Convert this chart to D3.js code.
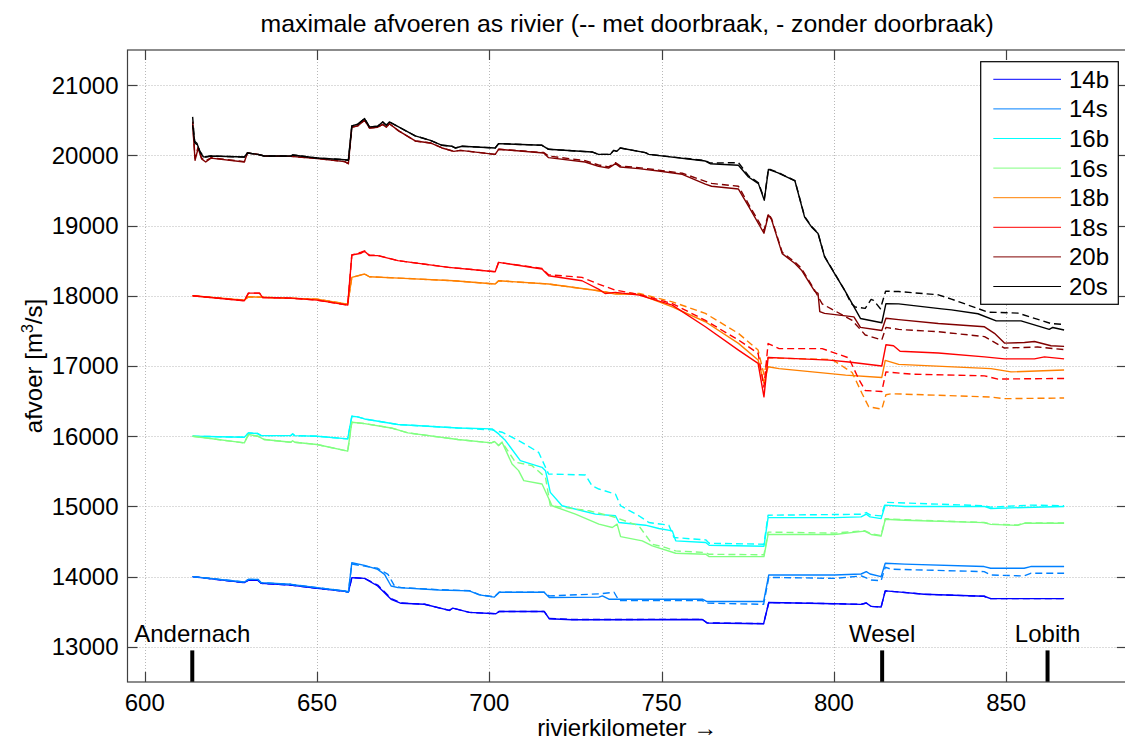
<!DOCTYPE html>
<html><head><meta charset="utf-8">
<script src="https://cdn.jsdelivr.net/npm/d3@7"></script>
<style>
body{margin:0;background:#fff}
svg{display:block}
text{font-family:"Liberation Sans",Arial,Helvetica,sans-serif;fill:#000}
</style>
</head><body>
<svg id="chart" width="1125" height="743"></svg>
<script>
// ---------- data ----------
const titleText = "maximale afvoeren as rivier (-- met doorbraak, - zonder doorbraak)";
const xLabel = "rivierkilometer \u2192";
const seriesNames = ["14b","14s","16b","16s","18b","18s","20b","20s"];
const seriesColors = ["#0000ff","#0080ff","#00ffff","#80ff80","#ff8000","#ff0000","#800000","#000000"];
const xTicks = [600,650,700,750,800,850];
const yTicks = [13000,14000,15000,16000,17000,18000,19000,20000,21000];
const stationNames = ["Andernach","Wesel","Lobith"];
const stationKm = [613.8,814.0,862.0];

// solid = zonder doorbraak, dashed = met doorbraak ; [km, afvoer]
const s14b = [[613.9,14000],[628.9,13915],[630.1,13950],[632.8,13950],[633.8,13905],[642.4,13880],[650,13835],[658,13790],[659.1,13780],[660.1,13986],[663.8,13976],[667.6,13867],[671.5,13678],[674.4,13621],[681.2,13607],[688.4,13519],[689.4,13552],[694.2,13491],[701.9,13472],[702.9,13505],[715.9,13505],[717.4,13401],[724.1,13387],[761.8,13390],[763.2,13340],[779.6,13330],[781.1,13632],[800.2,13615],[807.9,13606],[809.4,13625],[810.8,13577],[813.7,13567],[814.9,13798],[818.5,13784],[826.2,13750],[843.6,13721],[845.5,13687],[866.8,13687]];
const d14b = [[613.9,14000],[628.9,13915],[630.1,13950],[632.8,13950],[633.8,13905],[642.4,13880],[650,13835],[658,13790],[659.1,13780],[660.1,13986],[663.8,13976],[667.6,13880],[671.5,13690],[674.4,13625],[681.2,13607],[688.4,13519],[689.4,13552],[694.2,13491],[701.9,13472],[702.9,13505],[715.9,13505],[717.4,13405],[724.1,13390],[761.8,13392],[763.2,13342],[779.6,13332],[781.1,13632],[800.2,13615],[807.9,13606],[809.4,13625],[810.8,13577],[813.7,13567],[814.9,13798],[818.5,13784],[826.2,13750],[843.6,13721],[845.5,13687],[866.8,13687]];
const s14s = [[613.9,14000],[628.9,13924],[630.1,13962],[632.8,13962],[633.8,13915],[642.4,13891],[650,13844],[658,13796],[659.1,13782],[660.1,14199],[663.8,14161],[667.6,14104],[669.6,14033],[671.5,13867],[673.5,13844],[685.5,13811],[694.2,13797],[697.1,13741],[701.4,13708],[702.9,13778],[715.9,13778],[717.4,13703],[731.8,13708],[732.8,13726],[734.7,13679],[761.8,13679],[763.2,13646],[779.6,13646],[781.1,14024],[800.2,14024],[807.9,14038],[809.4,14072],[810.5,14038],[813.7,14000],[814.9,14192],[820.5,14178],[843.6,14144],[845.5,14120],[855.2,14120],[857.1,14144],[866.8,14144]];
const d14s = [[613.9,14000],[628.9,13924],[630.1,13962],[632.8,13962],[633.8,13915],[642.4,13891],[650,13844],[658,13796],[659.1,13782],[660.1,14180],[663.8,14150],[667.6,14120],[670.6,14033],[672.5,13867],[674.5,13844],[685.5,13815],[694.2,13800],[697.1,13745],[701.4,13712],[702.9,13780],[715.9,13780],[717.4,13726],[731.8,13755],[736.2,13778],[737.6,13660],[761.8,13660],[763.2,13623],[779.6,13606],[781.1,13990],[800.2,13976],[808,14010],[810.8,13952],[813.7,13942],[814.9,14135],[816.6,14106],[843.6,14072],[845.5,14024],[855.2,14010],[857.1,14048],[866.8,14048]];
const s16b = [[613.9,16000],[628.9,15986],[630.1,16047],[632.8,16038],[633.8,16009],[642.4,16009],[642.9,16033],[643.5,16009],[650,16000],[658.9,15962],[660.1,16284],[661.8,16275],[663.8,16246],[673.5,16166],[690.9,16118],[700.8,16105],[702.7,16033],[704.7,15938],[709,15652],[715.3,15557],[716.3,15510],[717.7,15200],[721.1,15010],[726.9,14938],[730.8,14890],[736.6,14867],[737.6,14771],[745.3,14733],[749.2,14686],[753.1,14652],[754.1,14510],[762.8,14486],[763.8,14448],[779.7,14433],[780.9,14841],[800.2,14841],[807.9,14851],[809.4,14889],[810.5,14851],[813.7,14827],[814.9,15019],[820.5,15000],[843.6,15000],[845.5,14971],[855.2,14986],[866.8,15000]];
const d16b = [[613.9,16000],[628.9,15986],[630.1,16047],[632.8,16038],[633.8,16009],[642.4,16009],[642.9,16033],[643.5,16009],[650,16000],[658.9,15962],[660.1,16284],[661.8,16275],[663.8,16246],[673.5,16166],[690.9,16118],[700.8,16090],[703.7,16057],[708.5,15938],[714.3,15771],[717.2,15462],[727.9,15448],[729.8,15295],[731.8,15248],[736.6,15176],[738.1,15010],[743.4,14867],[746.3,14771],[752.1,14733],[753.6,14557],[762.8,14524],[763.8,14476],[779.7,14462],[780.9,14875],[808,14889],[809.4,14913],[810.5,14880],[813.7,14865],[815,15058],[843.6,15010],[845.5,14990],[857.1,15019],[866.8,15010]];
const s16s = [[613.9,16000],[628.9,15905],[630.1,16024],[632.8,16000],[634.7,15953],[642.4,15915],[642.9,15935],[643.5,15915],[650,15882],[658.9,15787],[660.1,16199],[663.8,16180],[671.5,16118],[676.4,16047],[690.9,15953],[700.6,15905],[701.5,15924],[702.7,15867],[703.7,15914],[706.6,15605],[708.5,15510],[710,15367],[715.3,15319],[718.2,15010],[725,14890],[731.8,14748],[735.7,14700],[737.1,14748],[738.1,14571],[744.4,14510],[747.3,14438],[754.1,14333],[762.8,14319],[763.8,14286],[779.7,14286],[780.9,14601],[800.2,14601],[808.9,14649],[810.8,14601],[813.7,14577],[814.9,14817],[820.5,14803],[843.6,14769],[845.5,14745],[853.3,14731],[855.2,14760],[866.8,14760]];
const d16s = [[613.9,16000],[628.9,15905],[630.1,16024],[632.8,16000],[634.7,15953],[642.4,15915],[642.9,15935],[643.5,15915],[650,15882],[658.9,15787],[660.1,16199],[663.8,16180],[671.5,16118],[676.4,16047],[690.9,15953],[700.6,15905],[701.5,15924],[702.7,15867],[703.7,15914],[707.6,15629],[712.4,15581],[716.3,15414],[717.7,15010],[724,14971],[728.9,14938],[735.7,14857],[743.4,14724],[747.3,14462],[751.2,14414],[754.1,14367],[762.8,14343],[763.8,14319],[779.7,14312],[780.9,14635],[800.2,14620],[808.9,14655],[810.8,14610],[813.7,14585],[814.9,14825],[820.5,14810],[843.6,14772],[845.5,14748],[853.3,14735],[855.2,14765],[866.8,14765]];
const s18b = [[613.9,18000],[628.9,17938],[630.1,17986],[650,17952],[658.9,17881],[660.1,18262],[663.8,18310],[665.2,18271],[673.7,18252],[689.7,18214],[701.7,18167],[702.7,18214],[717.2,18167],[731.7,18071],[736.6,18024],[743.5,18020],[753.1,17843],[762.7,17630],[772.3,17322],[778,17085],[779.7,16760],[780.9,16990],[784.1,16963],[803.4,16870],[813.9,16837],[814.9,17079],[818.8,17023],[845.6,16963],[851.4,16916],[866.8,16944]];
const d18b = [[613.9,18000],[628.9,17938],[630.1,17986],[650,17952],[658.9,17881],[660.1,18262],[663.8,18310],[665.2,18271],[673.7,18252],[689.7,18214],[701.7,18167],[702.7,18214],[717.2,18167],[731.7,18071],[736.6,18030],[743.5,18033],[753.1,17914],[762.7,17749],[772.3,17464],[778,17227],[779.7,16880],[780.9,17120],[784.1,17110],[799.5,17093],[805.3,16907],[808.2,16605],[810.1,16419],[813.9,16386],[815.1,16591],[816.8,16605],[845.6,16558],[849.5,16535],[866.8,16544]];
const s18s = [[613.9,18000],[628.9,17929],[630.1,18038],[633.3,18038],[634.2,17976],[642.4,17967],[650,17938],[658.9,17867],[660.1,18581],[662.8,18606],[663.8,18634],[665.2,18572],[667.6,18572],[673.5,18500],[688.2,18405],[701.7,18343],[702.7,18476],[715.3,18381],[717.2,18286],[726.9,18214],[731.7,18095],[733.6,18033],[736.6,18048],[743.5,18009],[753.1,17867],[762.7,17559],[772.3,17227],[778,17037],[779.7,16560],[780.9,17120],[784.1,17116],[798.6,17084],[804.3,17056],[813.9,17000],[815.1,17302],[817.3,17288],[819.2,17209],[830.3,17186],[843.7,17130],[849.5,17102],[858.2,17102],[861.1,17130],[866.8,17102]];
const d18s = [[613.9,18000],[628.9,17929],[630.1,18038],[633.3,18038],[634.2,17976],[642.4,17967],[650,17938],[658.9,17867],[660.1,18581],[662.8,18620],[663.8,18640],[665.2,18580],[667.6,18575],[673.5,18500],[688.2,18405],[701.7,18343],[702.7,18476],[715.3,18390],[717.2,18300],[726.9,18262],[731.7,18167],[736.6,18080],[743.5,18020],[753.1,17890],[762.7,17650],[772.3,17370],[778,17180],[779.7,16700],[780.9,17320],[784.1,17247],[796.6,17247],[804.3,17116],[807.2,16814],[809.1,16651],[813.9,16637],[815.1,16916],[822.6,16884],[843.7,16860],[847.6,16814],[866.8,16823]];
const s20b = [[613.9,20450],[614.6,19930],[615.5,20100],[616.5,19950],[617.7,19905],[619.2,19960],[628.9,19905],[629.8,20033],[632.8,20014],[634.7,19990],[642.4,19985],[650,19955],[658,19910],[659.1,19881],[660.1,20400],[661.8,20420],[663.8,20500],[665.2,20390],[667.6,20400],[669.1,20440],[670.1,20400],[671,20450],[673.7,20348],[678.5,20205],[682.9,20176],[686.3,20105],[689.7,20057],[691.6,20071],[701.7,20014],[702.7,20086],[715.8,20033],[717.2,19967],[727.8,19905],[731.7,19843],[734.6,19819],[736.6,19881],[738,19833],[743.3,19810],[749.1,19776],[756,19730],[762.7,19590],[764.5,19560],[772.3,19520],[775.3,19270],[779.7,18891],[781,19152],[781.9,19085],[785,18600],[788.7,18460],[790.6,18365],[794.4,18065],[795.4,18033],[795.9,17775],[797.3,17749],[805.8,17700],[807.7,17550],[813.9,17505],[815.1,17680],[818.8,17660],[830.3,17605],[843.7,17558],[846.6,17465],[849.5,17326],[855.3,17335],[858.2,17349],[863,17288],[866.8,17279]];
const d20b = [[613.9,20480],[614.6,19960],[615.5,20120],[616.5,19960],[617.7,19920],[619.2,19965],[628.9,19910],[629.8,20033],[632.8,20014],[634.7,19990],[642.4,19985],[650,19955],[658,19910],[659.1,19881],[660.1,20400],[661.8,20420],[663.8,20500],[665.2,20390],[667.6,20400],[669.1,20440],[670.1,20400],[671,20450],[673.7,20348],[678.5,20205],[682.9,20176],[686.3,20105],[689.7,20057],[691.6,20071],[701.7,20014],[702.7,20086],[715.8,20040],[717.2,19990],[727.8,19925],[731.7,19862],[734.6,19835],[736.6,19895],[738,19850],[743.3,19825],[749.1,19790],[756,19745],[762.7,19630],[764.5,19600],[772.3,19560],[775.3,19300],[779.7,18930],[781,19170],[781.9,19100],[785,18620],[788.7,18480],[790.6,18390],[794.4,18080],[796.6,17884],[805.3,17651],[809.1,17442],[813.9,17372],[815.1,17550],[818.8,17521],[830.3,17488],[843.7,17419],[849.5,17256],[859.1,17270],[866.8,17233]];
const s20s = [[613.9,20430],[614.5,20200],[615.2,20167],[616,20050],[617,19980],[617.7,19976],[619.2,19990],[628.9,19976],[629.8,20033],[632.8,20014],[634.7,19990],[642.4,19990],[642.9,20005],[650,19962],[658,19938],[659.1,19930],[660.1,20419],[661.8,20443],[663.8,20524],[665.2,20405],[667.6,20414],[669.1,20476],[670.1,20430],[671,20476],[678.5,20276],[682.9,20214],[686.3,20143],[689.2,20129],[690.1,20105],[692.1,20129],[701.7,20105],[702.7,20167],[715.3,20143],[717.2,20086],[729.8,20048],[731.7,20014],[735.1,20014],[736.1,20071],[737,20057],[738,20105],[745.3,20038],[746.3,20014],[762.7,19919],[764.1,19881],[772.3,19858],[775.2,19692],[778.1,19597],[779.8,19360],[781,19800],[783.8,19749],[788.7,19635],[791.5,19120],[793.5,18981],[795.4,18886],[797.3,18554],[800.2,18317],[803.1,18080],[807.7,17677],[813.9,17616],[815.1,17887],[818.8,17884],[831.3,17814],[834.1,17800],[841.8,17744],[847.1,17642],[854.3,17642],[862.5,17521],[863.5,17549],[866.8,17512]];
const d20s = [[613.9,20548],[614.5,20180],[615.2,20150],[616,20060],[617,19985],[617.7,19980],[619.2,19990],[628.9,19976],[629.8,20033],[632.8,20014],[634.7,19990],[642.4,19990],[642.9,20005],[650,19962],[658,19938],[659.1,19930],[660.1,20419],[661.8,20443],[663.8,20524],[665.2,20405],[667.6,20414],[669.1,20476],[670.1,20430],[671,20476],[678.5,20276],[682.9,20214],[686.3,20143],[689.2,20129],[690.1,20105],[692.1,20129],[701.7,20105],[702.7,20167],[715.3,20143],[717.2,20086],[729.8,20048],[731.7,20014],[735.1,20014],[736.1,20071],[737,20057],[738,20105],[745.3,20038],[746.3,20014],[762.7,19925],[764.1,19890],[772.3,19896],[775.2,19710],[778.1,19610],[779.8,19380],[781,19810],[783.8,19755],[788.7,19640],[791.5,19130],[793.5,18990],[795.4,18890],[797.3,18560],[800.2,18320],[803.1,18080],[805,17891],[806.2,17840],[809.1,17820],[810.8,17948],[811.5,17935],[813.5,17815],[815,18065],[818.8,18060],[830.3,18014],[834.1,17953],[844.7,17767],[853.4,17753],[863,17605],[866.8,17591]];

const solidSeries = [s14b,s14s,s16b,s16s,s18b,s18s,s20b,s20s];
const dashedSeries = [d14b,d14s,d16b,d16s,d18b,d18s,d20b,d20s];

// ---------- chart ----------
const W = 1125, H = 743;
const plot = {left:127.5, right:1126.8, top:50, bottom:682};
const svg = d3.select("#chart");
const x = d3.scaleLinear().domain([595,885]).range([plot.left, plot.right]);
const y = d3.scaleLinear().domain([12500,21500]).range([plot.bottom, plot.top]);
const FS = 24;

svg.append("rect").attr("x",0).attr("y",0).attr("width",W).attr("height",H).attr("fill","#fff");

// grid
const grid = svg.append("g");
grid.selectAll("line.gx").data(xTicks).join("line")
  .attr("x1",d=>Math.round(x(d))+0.5).attr("x2",d=>Math.round(x(d))+0.5)
  .attr("y1",plot.top).attr("y2",plot.bottom)
  .attr("stroke","#b8b8b8").attr("stroke-width",1).attr("stroke-dasharray","1,2");
grid.selectAll("line.gy").data(yTicks).join("line")
  .attr("y1",d=>Math.round(y(d))+0.5).attr("y2",d=>Math.round(y(d))+0.5)
  .attr("x1",plot.left).attr("x2",plot.right)
  .attr("stroke","#b8b8b8").attr("stroke-width",1).attr("stroke-dasharray","1,2");

// station markers
const st = svg.append("g");
st.selectAll("line").data(stationKm).join("line")
  .attr("x1",d=>x(d)).attr("x2",d=>x(d))
  .attr("y1",y(12500)).attr("y2",y(12950))
  .attr("stroke","#000").attr("stroke-width",4);
st.selectAll("text").data(stationNames).join("text")
  .attr("x",(d,i)=>x(stationKm[i])).attr("y",y(12950)-8)
  .attr("text-anchor","middle").attr("font-size",FS).text(d=>d);

// lines
const line = d3.line().x(d=>x(d[0])).y(d=>y(d[1]));
const lines = svg.append("g").attr("fill","none").attr("stroke-linejoin","round");
seriesNames.forEach((n,i)=>{
  lines.append("path").datum(solidSeries[i]).attr("d",line)
    .attr("stroke",seriesColors[i]).attr("stroke-width",1.4);
  lines.append("path").datum(dashedSeries[i]).attr("d",line)
    .attr("stroke",seriesColors[i]).attr("stroke-width",1.4).attr("stroke-dasharray","7,4");
});

// axes box
const ax = svg.append("g").attr("stroke","#404040").attr("stroke-width",1.2);
ax.append("rect").attr("x",plot.left).attr("y",plot.top)
  .attr("width",plot.right-plot.left).attr("height",plot.bottom-plot.top).attr("fill","none");
// ticks (inward)
const TL = 10;
xTicks.forEach(t=>{
  const xx = Math.round(x(t))+0.5;
  ax.append("line").attr("x1",xx).attr("x2",xx).attr("y1",plot.bottom).attr("y2",plot.bottom-TL);
  ax.append("line").attr("x1",xx).attr("x2",xx).attr("y1",plot.top).attr("y2",plot.top+TL);
});
yTicks.forEach(t=>{
  const yy = Math.round(y(t))+0.5;
  ax.append("line").attr("y1",yy).attr("y2",yy).attr("x1",plot.left).attr("x2",plot.left+TL);
  ax.append("line").attr("y1",yy).attr("y2",yy).attr("x1",plot.right).attr("x2",plot.right-TL);
});
// tick labels
svg.append("g").selectAll("text").data(xTicks).join("text")
  .attr("x",d=>x(d)).attr("y",plot.bottom+29).attr("text-anchor","middle")
  .attr("font-size",FS).text(d=>d);
svg.append("g").selectAll("text").data(yTicks).join("text")
  .attr("x",plot.left-9).attr("y",d=>y(d)).attr("dy","0.35em").attr("text-anchor","end")
  .attr("font-size",FS).text(d=>d);

// axis labels and title
svg.append("text").attr("x",(plot.left+plot.right)/2).attr("y",736)
  .attr("text-anchor","middle").attr("font-size",FS).text(xLabel);
const yl = svg.append("text").attr("transform",`translate(42,${(plot.top+plot.bottom)/2}) rotate(-90)`)
  .attr("text-anchor","middle").attr("font-size",FS);
yl.append("tspan").text("afvoer [m");
yl.append("tspan").attr("font-size",16).attr("dy",-9).text("3");
yl.append("tspan").attr("dy",9).text("/s]");
svg.append("text").attr("x",(plot.left+plot.right)/2).attr("y",32)
  .attr("text-anchor","middle").attr("font-size",24.8).text(titleText);

// legend
const lg = {x:980.7, y:61.7, w:137.6, h:242.6, row0:79.3, dy:29.6};
const leg = svg.append("g");
leg.append("rect").attr("x",lg.x).attr("y",lg.y).attr("width",lg.w).attr("height",lg.h)
  .attr("fill","#fff").attr("stroke","#000").attr("stroke-width",1.2);
seriesNames.forEach((n,i)=>{
  const yy = lg.row0 + i*lg.dy;
  leg.append("line").attr("x1",993.3).attr("x2",1061).attr("y1",yy).attr("y2",yy)
    .attr("stroke",seriesColors[i]).attr("stroke-width",1);
  leg.append("text").attr("x",1069).attr("y",yy).attr("dy","0.35em")
    .attr("font-size",FS).text(n);
});
</script>
</body></html>
